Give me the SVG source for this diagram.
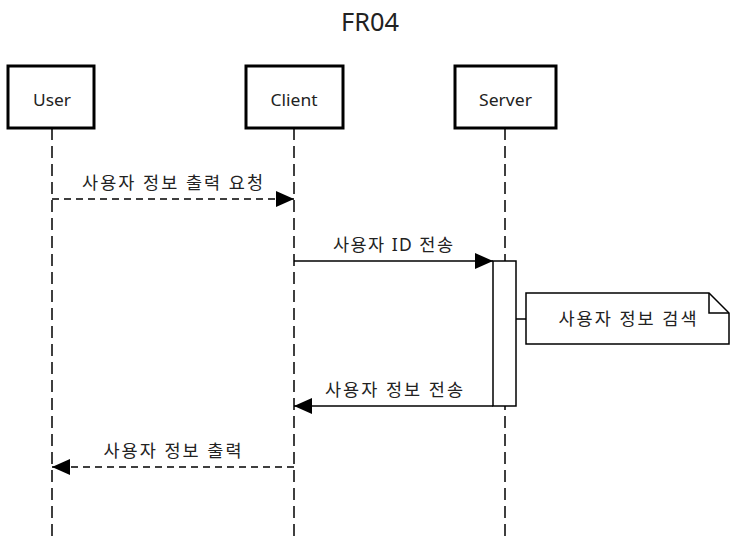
<svg xmlns="http://www.w3.org/2000/svg" width="737" height="537" viewBox="0 0 737 537">
<defs>
<style>
.box{fill:#fff;stroke:#000;stroke-width:3}
.life{stroke:#000;stroke-width:1.5;stroke-dasharray:12 6;fill:none}
.msg{stroke:#000;stroke-width:1.5;fill:none}
.dash{stroke-dasharray:7 5}
.t{font-family:"Noto Sans","Noto Sans CJK KR",sans-serif;font-size:17.5px;fill:#222;text-anchor:middle}
.n{font-family:"Noto Sans","Noto Sans CJK KR",sans-serif;font-size:17px;fill:#222;text-anchor:middle}
.title{font-family:"Noto Sans","Noto Sans CJK KR",sans-serif;font-size:25px;fill:#222;text-anchor:middle}
.act{fill:#fff;stroke:#000;stroke-width:1.5}
</style>
<marker id="ah" viewBox="0 0 18 16" refX="18" refY="8" markerWidth="18" markerHeight="16" markerUnits="userSpaceOnUse" orient="auto">
<path d="M0,0 L18,8 L0,16 Z" fill="#000"/>
</marker>
</defs>
<rect width="737" height="537" fill="#fff"/>
<text class="title" x="370" y="31" textLength="58" lengthAdjust="spacingAndGlyphs">FR04</text>
<g id="lifelines">
<line class="life" x1="52" y1="128" x2="52" y2="537"/>
<line class="life" x1="294" y1="128" x2="294" y2="537"/>
<line class="life" x1="505" y1="128" x2="505" y2="537"/>
</g>
<g id="user">
<rect class="box" x="8" y="66" width="86" height="62"/>
<text class="n" x="52" y="106" textLength="38" lengthAdjust="spacingAndGlyphs">User</text>
</g>
<g id="client">
<rect class="box" x="246" y="66" width="97" height="62"/>
<text class="n" x="294" y="106" textLength="47" lengthAdjust="spacingAndGlyphs">Client</text>
</g>
<g id="server">
<rect class="box" x="455" y="66" width="101" height="62"/>
<text class="n" x="505.5" y="106" textLength="53" lengthAdjust="spacingAndGlyphs">Server</text>
</g>
<g id="activation">
<rect class="act" x="493" y="261" width="23" height="145"/>
</g>
<g id="note">
<path class="act" d="M526,293 L709,293 L729,313 L729,344 L526,344 Z"/>
<path class="msg" d="M709,293 L709,313 L729,313"/>
<text class="t" x="627.5" y="325" textLength="138" lengthAdjust="spacing">사용자 정보 검색</text>
</g>
<g id="connectors">
<path class="msg dash" d="M52,199 L294,199" marker-end="url(#ah)"/>
<path class="msg" d="M294,261 L493,261" marker-end="url(#ah)"/>
<path class="msg" d="M516,319 L526,319"/>
<path class="msg" d="M493,406 L294,406" marker-end="url(#ah)"/>
<path class="msg dash" d="M294,467 L52,467" marker-end="url(#ah)"/>
</g>
<g id="labels">
<text class="t" x="172.5" y="189" textLength="181" lengthAdjust="spacing">사용자 정보 출력 요청</text>
<text class="t" x="393" y="251" textLength="120" lengthAdjust="spacing">사용자 ID 전송</text>
<text class="t" x="394" y="396" textLength="138" lengthAdjust="spacing">사용자 정보 전송</text>
<text class="t" x="172.5" y="457" textLength="138" lengthAdjust="spacing">사용자 정보 출력</text>
</g>
</svg>
